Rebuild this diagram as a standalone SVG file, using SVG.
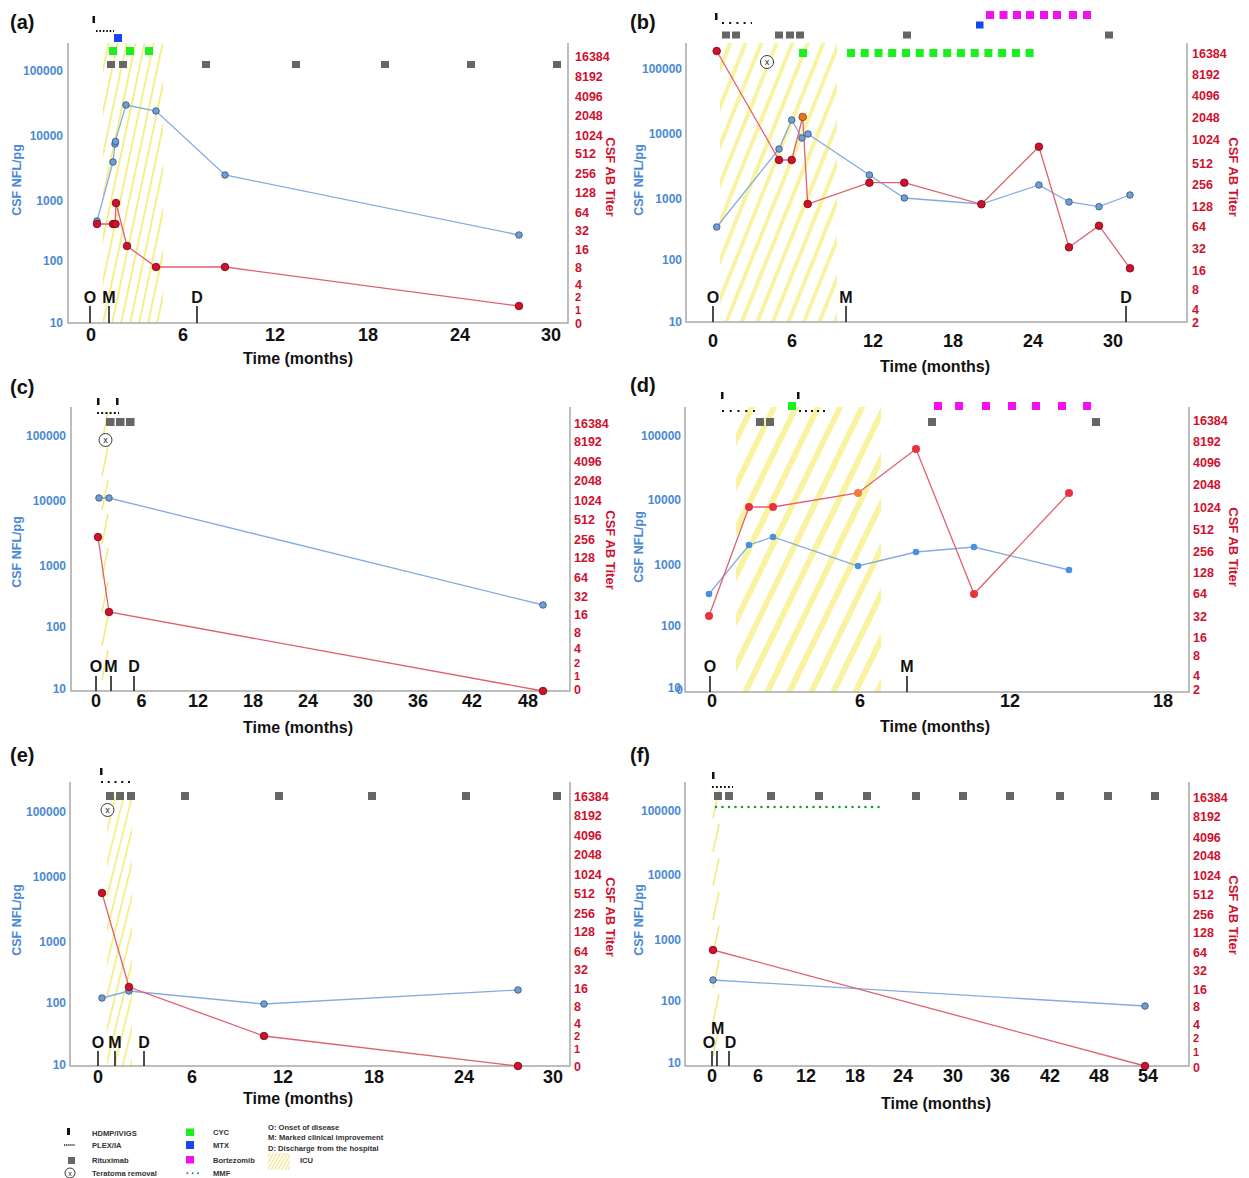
<svg xmlns="http://www.w3.org/2000/svg" width="1249" height="1178" viewBox="0 0 1249 1178">
<style>
text{font-family:"Liberation Sans",Arial,sans-serif}
.pl{font-size:20px;font-weight:bold;fill:#111}
.yl{font-size:12px;font-weight:bold;fill:#4a89d4;text-anchor:end}
.rl{font-size:12.5px;font-weight:bold;fill:#d0102e}
.sm{font-size:11px}
.xl{font-size:18px;font-weight:bold;fill:#111;text-anchor:middle}
.tt{font-size:16px;font-weight:bold;fill:#111;text-anchor:middle}
.ev{font-size:16px;font-weight:bold;fill:#111;text-anchor:middle}
.yt{font-size:12.5px;font-weight:bold;fill:#4a89d4;text-anchor:middle}
.rt{font-size:13px;font-weight:bold;fill:#d0102e;text-anchor:middle}
.ax{fill:none;stroke:#a8a8a8;stroke-width:1.5}
.tk{stroke:#111;stroke-width:1.5}
.hd{fill:#111}
.px{stroke:#111;stroke-width:2;fill:none}
.rx{fill:#666}
.cy{fill:#19f01e}
.mt{fill:#1646f0}
.bz{fill:#f010f0}
.bl{fill:none;stroke:#84acdf;stroke-width:1.3}
.rln{fill:none;stroke:#e0606e;stroke-width:1.3}
.bp{fill:#6e9ed4;stroke:#34507a;stroke-width:0.8}
.rp{fill:#d2102c;stroke:#6a0812;stroke-width:0.8}
.op{fill:#e8751a;stroke:#8a3a08;stroke-width:0.8}
.bpd{fill:#4d8fdc}
.rpd{fill:#e8333f}
.opd{fill:#ef7d3c}
.tr{fill:#fff;stroke:#222;stroke-width:0.9}
.trx{font-size:9px;fill:#222;text-anchor:middle}
.zz{stroke:#f2ea78;stroke-width:1.5;fill:none}
.lg{font-size:7.6px;font-weight:bold;fill:#333}
</style>
<defs>
<pattern id="icuA" patternUnits="userSpaceOnUse" width="8.8" height="10" patternTransform="rotate(12)"><rect x="0" y="0" width="1.6" height="10" fill="#f3eb6e"/></pattern>
<pattern id="icuB" patternUnits="userSpaceOnUse" width="14.4" height="10" patternTransform="rotate(22)"><rect x="0" y="0" width="4" height="10" fill="#f8f3a0"/></pattern>
<pattern id="icuD" patternUnits="userSpaceOnUse" width="19.8" height="10" patternTransform="rotate(26)"><rect x="0" y="0" width="6" height="10" fill="#f8f3a0"/></pattern>
<pattern id="icuE" patternUnits="userSpaceOnUse" width="8" height="10" patternTransform="rotate(14)"><rect x="0" y="0" width="1.5" height="10" fill="#f3eb6e"/></pattern>
<pattern id="icuL" patternUnits="userSpaceOnUse" width="3" height="6" patternTransform="rotate(30)"><rect x="0" y="0" width="1.2" height="6" fill="#efe48a"/></pattern>
</defs>
<rect width="1249" height="1178" fill="#fff"/>

<!-- Panel (a) -->
<g id="panel-a">
<text class="pl" x="10" y="29">(a)</text>
<rect x="103" y="43" width="60" height="280" fill="url(#icuA)"/>
<path class="ax" d="M68,43 V323 H568 V43"/>
<text class="yl" x="63" y="75">100000</text><text class="yl" x="63" y="140">10000</text><text class="yl" x="63" y="205">1000</text><text class="yl" x="63" y="265">100</text><text class="yl" x="63" y="327">10</text>
<text class="rl" x="575" y="61">16384</text><text class="rl" x="575" y="80.5">8192</text><text class="rl" x="575" y="100.5">4096</text><text class="rl" x="575" y="119.5">2048</text><text class="rl" x="575" y="139.5">1024</text><text class="rl" x="575" y="157.5">512</text><text class="rl" x="575" y="177.5">256</text><text class="rl" x="575" y="196.5">128</text><text class="rl" x="575" y="216.5">64</text><text class="rl" x="575" y="234.5">32</text><text class="rl" x="575" y="253.5">16</text><text class="rl" x="575" y="271.5">8</text><text class="rl" x="575" y="288.5">4</text><text class="rl sm" x="575" y="300.5">2</text><text class="rl sm" x="575" y="313.5">1</text><text class="rl" x="575" y="327.5">0</text>
<text class="rt" transform="translate(606,177) rotate(90)">CSF AB Titer</text>
<text class="yt" transform="translate(21,180) rotate(-90)">CSF NFL/pg</text>
<text class="xl" x="91" y="340.5">0</text><text class="xl" x="183" y="340.5">6</text><text class="xl" x="275" y="340.5">12</text><text class="xl" x="368" y="340.5">18</text><text class="xl" x="460" y="340.5">24</text><text class="xl" x="551" y="340.5">30</text>
<text class="tt" x="298" y="364">Time (months)</text>
<text class="ev" x="90" y="303">O</text><text class="ev" x="109" y="303">M</text><text class="ev" x="197" y="303">D</text>
<line class="tk" x1="90" y1="306" x2="90" y2="323"/><line class="tk" x1="109" y1="306" x2="109" y2="323"/><line class="tk" x1="197" y1="306" x2="197" y2="323"/>
<rect class="hd" x="92.5" y="16" width="2.5" height="7"/>
<line class="px" x1="96" y1="31" x2="114" y2="31" stroke-width="1.6" stroke-dasharray="1.6 1.8"/>
<rect class="mt" x="114" y="34" width="8" height="8"/>
<rect class="cy" x="109" y="47" width="8" height="8"/><rect class="cy" x="126" y="47" width="8" height="8"/><rect class="cy" x="145" y="47" width="8" height="8"/>
<rect class="rx" x="107" y="61" width="8" height="7"/><rect class="rx" x="119" y="61" width="8" height="7"/><rect class="rx" x="202" y="61" width="8" height="7"/><rect class="rx" x="292" y="61" width="8" height="7"/><rect class="rx" x="381" y="61" width="8" height="7"/><rect class="rx" x="467" y="61" width="8" height="7"/><rect class="rx" x="553" y="61" width="8" height="7"/>
<polyline class="bl" points="97,221 113,162 115,144 115,142 126,105 156,111 225,175 519,235"/>
<polyline class="rln" points="97,224 113,224 115,224 116,203 127,246 156,267 225,267 519,306"/>
<circle class="bp" cx="97" cy="221" r="3.3"/><circle class="bp" cx="113" cy="162" r="3.3"/><circle class="bp" cx="115" cy="144" r="3.3"/><circle class="bp" cx="115.5" cy="141.5" r="3.3"/><circle class="bp" cx="126" cy="105" r="3.3"/><circle class="bp" cx="156" cy="111" r="3.3"/><circle class="bp" cx="225" cy="175" r="3.3"/><circle class="bp" cx="519" cy="235" r="3.3"/>
<circle class="rp" cx="97" cy="224" r="3.8"/><circle class="rp" cx="113" cy="224" r="3.8"/><circle class="rp" cx="115.5" cy="224" r="3.8"/><circle class="rp" cx="116" cy="203" r="3.8"/><circle class="rp" cx="127" cy="246" r="3.8"/><circle class="rp" cx="156" cy="267" r="3.8"/><circle class="rp" cx="225" cy="267" r="3.8"/><circle class="rp" cx="519" cy="306" r="3.8"/>
</g>

<!-- Panel (b) -->
<g id="panel-b">
<text class="pl" x="630" y="29">(b)</text>
<rect x="720" y="43" width="117" height="279" fill="url(#icuB)"/>
<path class="ax" d="M686,43 V322 H1187 V43"/>
<text class="yl" x="682" y="73">100000</text><text class="yl" x="682" y="138">10000</text><text class="yl" x="682" y="203">1000</text><text class="yl" x="682" y="264">100</text><text class="yl" x="682" y="326">10</text>
<text class="rl" x="1192" y="57.5">16384</text><text class="rl" x="1192" y="78.5">8192</text><text class="rl" x="1192" y="99.5">4096</text><text class="rl" x="1192" y="121.5">2048</text><text class="rl" x="1192" y="143.5">1024</text><text class="rl" x="1192" y="167.5">512</text><text class="rl" x="1192" y="188.5">256</text><text class="rl" x="1192" y="210.5">128</text><text class="rl" x="1192" y="230.5">64</text><text class="rl" x="1192" y="252.5">32</text><text class="rl" x="1192" y="274.5">16</text><text class="rl" x="1192" y="293.5">8</text><text class="rl" x="1192" y="313.5">4</text><text class="rl" x="1192" y="326.5">2</text>
<text class="rt" transform="translate(1229,177) rotate(90)">CSF AB Titer</text>
<text class="yt" transform="translate(643,180) rotate(-90)">CSF NFL/pg</text>
<text class="xl" x="713" y="346.5">0</text><text class="xl" x="792" y="346.5">6</text><text class="xl" x="873" y="346.5">12</text><text class="xl" x="953" y="346.5">18</text><text class="xl" x="1033" y="346.5">24</text><text class="xl" x="1113" y="346.5">30</text>
<text class="tt" x="935" y="372">Time (months)</text>
<text class="ev" x="713" y="303">O</text><text class="ev" x="846" y="303">M</text><text class="ev" x="1126" y="303">D</text>
<line class="tk" x1="713" y1="306" x2="713" y2="322"/><line class="tk" x1="846" y1="306" x2="846" y2="322"/><line class="tk" x1="1126" y1="306" x2="1126" y2="322"/>
<rect class="hd" x="715" y="13" width="2.5" height="7"/>
<line class="px" x1="722" y1="23" x2="752" y2="23" stroke-dasharray="2 5.2"/>
<rect class="rx" x="722" y="31.5" width="8" height="7"/><rect class="rx" x="732" y="31.5" width="8" height="7"/><rect class="rx" x="775" y="31.5" width="8" height="7"/><rect class="rx" x="786" y="31.5" width="8" height="7"/><rect class="rx" x="796" y="31.5" width="8" height="7"/><rect class="rx" x="903" y="31.5" width="8" height="7"/><rect class="rx" x="1105" y="31.5" width="8" height="7"/>
<rect class="mt" x="976" y="21.5" width="7.5" height="7"/>
<rect class="bz" x="986" y="11" width="8" height="8"/><rect class="bz" x="999.5" y="11" width="8" height="8"/><rect class="bz" x="1013" y="11" width="8" height="8"/><rect class="bz" x="1026" y="11" width="8" height="8"/><rect class="bz" x="1040" y="11" width="8" height="8"/><rect class="bz" x="1053" y="11" width="8" height="8"/><rect class="bz" x="1069" y="11" width="8" height="8"/><rect class="bz" x="1083" y="11" width="8" height="8"/>
<rect class="cy" x="799" y="49" width="8" height="8"/>
<rect class="cy" x="847" y="49" width="8" height="8"/><rect class="cy" x="860.7" y="49" width="8" height="8"/><rect class="cy" x="874.5" y="49" width="8" height="8"/><rect class="cy" x="888.2" y="49" width="8" height="8"/><rect class="cy" x="902" y="49" width="8" height="8"/><rect class="cy" x="915.7" y="49" width="8" height="8"/><rect class="cy" x="929.4" y="49" width="8" height="8"/><rect class="cy" x="943.2" y="49" width="8" height="8"/><rect class="cy" x="956.9" y="49" width="8" height="8"/><rect class="cy" x="970.7" y="49" width="8" height="8"/><rect class="cy" x="984.4" y="49" width="8" height="8"/><rect class="cy" x="998.1" y="49" width="8" height="8"/><rect class="cy" x="1011.9" y="49" width="8" height="8"/><rect class="cy" x="1025.6" y="49" width="8" height="8"/>
<circle class="tr" cx="767" cy="62" r="6.5"/><text class="trx" x="767" y="65">x</text>
<polyline class="bl" points="716.7,227 779,149 791.7,120 802,138 808,134 869.4,175 904.3,198 981.4,204 1038.9,185 1069,202 1099,206.7 1130,195"/>
<polyline class="rln" points="716.7,51 779,160 791.7,160 802.7,117 807.7,204 869.4,182.7 904.3,182.7 981.4,204.3 1038.9,146.7 1069,247.3 1099,225.7 1130,268.3"/>
<circle class="bp" cx="716.7" cy="227" r="3.3"/><circle class="bp" cx="779" cy="149" r="3.3"/><circle class="bp" cx="791.7" cy="120" r="3.3"/><circle class="bp" cx="802" cy="138" r="3.3"/><circle class="bp" cx="808" cy="134" r="3.3"/><circle class="bp" cx="869.4" cy="175" r="3.3"/><circle class="bp" cx="904.3" cy="198" r="3.3"/><circle class="bp" cx="981.4" cy="204" r="3.3"/><circle class="bp" cx="1038.9" cy="185" r="3.3"/><circle class="bp" cx="1069" cy="202" r="3.3"/><circle class="bp" cx="1099" cy="206.7" r="3.3"/><circle class="bp" cx="1130" cy="195" r="3.3"/>
<circle class="rp" cx="716.7" cy="51" r="3.8"/><circle class="rp" cx="779" cy="160" r="3.8"/><circle class="rp" cx="791.7" cy="160" r="3.8"/><circle class="op" cx="802.7" cy="117" r="3.8"/><circle class="rp" cx="807.7" cy="204" r="3.8"/><circle class="rp" cx="869.4" cy="182.7" r="3.8"/><circle class="rp" cx="904.3" cy="182.7" r="3.8"/><circle class="rp" cx="981.4" cy="204.3" r="3.8"/><circle class="rp" cx="1038.9" cy="146.7" r="3.8"/><circle class="rp" cx="1069" cy="247.3" r="3.8"/><circle class="rp" cx="1099" cy="225.7" r="3.8"/><circle class="rp" cx="1130" cy="268.3" r="3.8"/>
</g>

<!-- Panel (c) -->
<g id="panel-c">
<text class="pl" x="10" y="394">(c)</text>
<path class="zz" d="M102,442 L108,412 M102,476 L108,446 M102,510 L108,480 M102,544 L108,514 M102,578 L108,548 M102,612 L108,582 M102,646 L108,616 M102,680 L108,650"/>
<path class="ax" d="M71,407 V691 H570 V407"/>
<text class="yl" x="66" y="440">100000</text><text class="yl" x="66" y="505">10000</text><text class="yl" x="66" y="570">1000</text><text class="yl" x="66" y="631">100</text><text class="yl" x="66" y="693">10</text>
<text class="rl" x="574" y="427.5">16384</text><text class="rl" x="574" y="445.5">8192</text><text class="rl" x="574" y="465.5">4096</text><text class="rl" x="574" y="484.5">2048</text><text class="rl" x="574" y="504.5">1024</text><text class="rl" x="574" y="523.5">512</text><text class="rl" x="574" y="543.5">256</text><text class="rl" x="574" y="561.5">128</text><text class="rl" x="574" y="581.5">64</text><text class="rl" x="574" y="600.5">32</text><text class="rl" x="574" y="618.5">16</text><text class="rl" x="574" y="636.5">8</text><text class="rl" x="574" y="652.5">4</text><text class="rl sm" x="574" y="666.5">2</text><text class="rl sm" x="574" y="679.5">1</text><text class="rl" x="574" y="693.5">0</text>
<text class="rt" transform="translate(606,550) rotate(90)">CSF AB Titer</text>
<text class="yt" transform="translate(21,552) rotate(-90)">CSF NFL/pg</text>
<text class="xl" x="96" y="706.5">0</text><text class="xl" x="141.5" y="706.5">6</text><text class="xl" x="198" y="706.5">12</text><text class="xl" x="253" y="706.5">18</text><text class="xl" x="308" y="706.5">24</text><text class="xl" x="363" y="706.5">30</text><text class="xl" x="418" y="706.5">36</text><text class="xl" x="472" y="706.5">42</text><text class="xl" x="528" y="706.5">48</text>
<text class="tt" x="298" y="733">Time (months)</text>
<text class="ev" x="96" y="672">O</text><text class="ev" x="111" y="672">M</text><text class="ev" x="134" y="672">D</text>
<line class="tk" x1="96" y1="676" x2="96" y2="691"/><line class="tk" x1="111" y1="676" x2="111" y2="691"/><line class="tk" x1="134" y1="676" x2="134" y2="691"/>
<rect class="hd" x="97" y="398" width="2.5" height="7"/><rect class="hd" x="116" y="398" width="2.5" height="7"/>
<line class="px" x1="97" y1="413" x2="119" y2="413" stroke-width="1.8" stroke-dasharray="2 2.2"/>
<rect class="rx" x="106" y="418" width="8.5" height="8"/><rect class="rx" x="116" y="418" width="8.5" height="8"/><rect class="rx" x="126" y="418" width="8.5" height="8"/>
<circle class="tr" cx="105.5" cy="440" r="6.5"/><text class="trx" x="105.5" y="443">x</text>
<polyline class="bl" points="99,498 109,498 543,605"/>
<polyline class="rln" points="98,537 109,612 543,691"/>
<circle class="bp" cx="99" cy="498" r="3.3"/><circle class="bp" cx="109" cy="498" r="3.3"/><circle class="bp" cx="543" cy="605" r="3.3"/>
<circle class="rp" cx="98" cy="537" r="3.8"/><circle class="rp" cx="109" cy="612" r="3.8"/><circle class="rp" cx="543" cy="691" r="3.8"/>
</g>

<!-- Panel (d) -->
<g id="panel-d">
<text class="pl" x="630" y="392">(d)</text>
<rect x="736" y="407" width="145" height="285" fill="url(#icuD)"/>
<path class="ax" d="M685,407 V692 H1189 V407"/>
<text class="yl" x="681" y="440">100000</text><text class="yl" x="681" y="504">10000</text><text class="yl" x="681" y="569">1000</text><text class="yl" x="681" y="630">100</text><text class="yl" x="681" y="692">10</text><text class="yl" x="683" y="694">0</text>
<text class="rl" x="1193" y="424.5">16384</text><text class="rl" x="1193" y="445.5">8192</text><text class="rl" x="1193" y="466.5">4096</text><text class="rl" x="1193" y="488.5">2048</text><text class="rl" x="1193" y="511.5">1024</text><text class="rl" x="1193" y="533.5">512</text><text class="rl" x="1193" y="555.5">256</text><text class="rl" x="1193" y="576.5">128</text><text class="rl" x="1193" y="597.5">64</text><text class="rl" x="1193" y="620.5">32</text><text class="rl" x="1193" y="641.5">16</text><text class="rl" x="1193" y="659.5">8</text><text class="rl" x="1193" y="679.5">4</text><text class="rl" x="1193" y="693.5">2</text>
<text class="rt" transform="translate(1229,547) rotate(90)">CSF AB Titer</text>
<text class="yt" transform="translate(643,547) rotate(-90)">CSF NFL/pg</text>
<text class="xl" x="712" y="706.5">0</text><text class="xl" x="860" y="706.5">6</text><text class="xl" x="1010" y="706.5">12</text><text class="xl" x="1163" y="706.5">18</text>
<text class="tt" x="935" y="732">Time (months)</text>
<text class="ev" x="710" y="672">O</text><text class="ev" x="907" y="672">M</text>
<line class="tk" x1="710" y1="676" x2="710" y2="692"/><line class="tk" x1="907" y1="676" x2="907" y2="692"/>
<rect class="hd" x="721" y="392" width="2.5" height="7"/><rect class="hd" x="797" y="392" width="2.5" height="7"/>
<line class="px" x1="722" y1="411" x2="755" y2="411" stroke-dasharray="2 5.75"/>
<line class="px" x1="799" y1="411" x2="825" y2="411" stroke-dasharray="2 4"/>
<rect class="cy" x="788" y="402" width="8" height="8"/>
<rect class="rx" x="756" y="418" width="8" height="8"/><rect class="rx" x="766" y="418" width="8" height="8"/><rect class="rx" x="928" y="418" width="8" height="8"/><rect class="rx" x="1092" y="418" width="8" height="8"/>
<rect class="bz" x="934" y="402" width="8" height="8"/><rect class="bz" x="955" y="402" width="8" height="8"/><rect class="bz" x="982" y="402" width="8" height="8"/><rect class="bz" x="1008" y="402" width="8" height="8"/><rect class="bz" x="1032" y="402" width="8" height="8"/><rect class="bz" x="1058" y="402" width="8" height="8"/><rect class="bz" x="1083" y="402" width="8" height="8"/>
<polyline class="bl" points="709,594 749,545 773,537 858,566 916,552 974,547 1069,570"/>
<polyline class="rln" points="709,616 749,507 773,507 858,493 916,449 974,594 1069,493"/>
<circle class="bpd" cx="709" cy="594" r="3.3"/><circle class="bpd" cx="749" cy="545" r="3.3"/><circle class="bpd" cx="773" cy="537" r="3.3"/><circle class="bpd" cx="858" cy="566" r="3.3"/><circle class="bpd" cx="916" cy="552" r="3.3"/><circle class="bpd" cx="974" cy="547" r="3.3"/><circle class="bpd" cx="1069" cy="570" r="3.3"/>
<circle class="rpd" cx="709" cy="616" r="4"/><circle class="rpd" cx="749" cy="507" r="4"/><circle class="rpd" cx="773" cy="507" r="4"/><circle class="opd" cx="858" cy="493" r="4"/><circle class="rpd" cx="916" cy="449" r="4"/><circle class="rpd" cx="974" cy="594" r="4"/><circle class="rpd" cx="1069" cy="493" r="4"/>
</g>

<!-- Panel (e) -->
<g id="panel-e">
<text class="pl" x="10" y="762">(e)</text>
<rect x="107" y="797" width="25" height="269" fill="url(#icuE)"/>
<path class="ax" d="M70,782 V1066 H570 V782"/>
<text class="yl" x="66" y="816">100000</text><text class="yl" x="66" y="881">10000</text><text class="yl" x="66" y="946">1000</text><text class="yl" x="66" y="1007">100</text><text class="yl" x="66" y="1069">10</text>
<text class="rl" x="574" y="800.5">16384</text><text class="rl" x="574" y="819.5">8192</text><text class="rl" x="574" y="839.5">4096</text><text class="rl" x="574" y="858.5">2048</text><text class="rl" x="574" y="878.5">1024</text><text class="rl" x="574" y="897.5">512</text><text class="rl" x="574" y="917.5">256</text><text class="rl" x="574" y="935.5">128</text><text class="rl" x="574" y="955.5">64</text><text class="rl" x="574" y="973.5">32</text><text class="rl" x="574" y="992.5">16</text><text class="rl" x="574" y="1010.5">8</text><text class="rl" x="574" y="1027.5">4</text><text class="rl sm" x="574" y="1040">2</text><text class="rl sm" x="574" y="1053">1</text><text class="rl" x="574" y="1070.5">0</text>
<text class="rt" transform="translate(606,917) rotate(90)">CSF AB Titer</text>
<text class="yt" transform="translate(21,920) rotate(-90)">CSF NFL/pg</text>
<text class="xl" x="98" y="1082.5">0</text><text class="xl" x="192" y="1082.5">6</text><text class="xl" x="283" y="1082.5">12</text><text class="xl" x="374" y="1082.5">18</text><text class="xl" x="464" y="1082.5">24</text><text class="xl" x="553" y="1082.5">30</text>
<text class="tt" x="298" y="1104">Time (months)</text>
<text class="ev" x="98" y="1048">O</text><text class="ev" x="115" y="1048">M</text><text class="ev" x="144" y="1048">D</text>
<line class="tk" x1="98" y1="1051" x2="98" y2="1066"/><line class="tk" x1="115" y1="1051" x2="115" y2="1066"/><line class="tk" x1="144" y1="1051" x2="144" y2="1066"/>
<rect class="hd" x="100" y="768" width="2.5" height="7"/>
<line class="px" x1="101" y1="782" x2="130" y2="782" stroke-dasharray="2 4.75"/>
<rect class="rx" x="106" y="792" width="8" height="8"/><rect class="rx" x="116" y="792" width="8" height="8"/><rect class="rx" x="127" y="792" width="8" height="8"/><rect class="rx" x="181" y="792" width="8" height="8"/><rect class="rx" x="275" y="792" width="8" height="8"/><rect class="rx" x="368" y="792" width="8" height="8"/><rect class="rx" x="462" y="792" width="8" height="8"/><rect class="rx" x="553" y="792" width="8" height="8"/>
<circle class="tr" cx="107.5" cy="810" r="6.5"/><text class="trx" x="107.5" y="813">x</text>
<polyline class="bl" points="102,998 129,991 264,1004 518,990"/>
<polyline class="rln" points="102,893 129,987 264,1036 518,1066"/>
<circle class="bp" cx="102" cy="998" r="3.3"/><circle class="bp" cx="129" cy="991" r="3.3"/><circle class="bp" cx="264" cy="1004" r="3.3"/><circle class="bp" cx="518" cy="990" r="3.3"/>
<circle class="rp" cx="102" cy="893" r="3.8"/><circle class="rp" cx="129" cy="987" r="3.8"/><circle class="rp" cx="264" cy="1036" r="3.8"/><circle class="rp" cx="518" cy="1066" r="3.8"/>
</g>

<!-- Panel (f) -->
<g id="panel-f">
<text class="pl" x="630" y="762">(f)</text>
<path class="zz" d="M713,818 L719,790 M713,852 L719,824 M713,886 L719,858 M713,920 L719,892 M713,954 L719,926 M713,988 L719,960 M713,1022 L719,994 M713,1056 L719,1028"/>
<path class="ax" d="M685,782 V1066 H1189 V782"/>
<text class="yl" x="681" y="815">100000</text><text class="yl" x="681" y="879">10000</text><text class="yl" x="681" y="944">1000</text><text class="yl" x="681" y="1005">100</text><text class="yl" x="681" y="1067">10</text>
<text class="rl" x="1193" y="801.5">16384</text><text class="rl" x="1193" y="820.5">8192</text><text class="rl" x="1193" y="841.5">4096</text><text class="rl" x="1193" y="859.5">2048</text><text class="rl" x="1193" y="879.5">1024</text><text class="rl" x="1193" y="898.5">512</text><text class="rl" x="1193" y="918.5">256</text><text class="rl" x="1193" y="936.5">128</text><text class="rl" x="1193" y="956.5">64</text><text class="rl" x="1193" y="974.5">32</text><text class="rl" x="1193" y="993.5">16</text><text class="rl" x="1193" y="1010.5">8</text><text class="rl" x="1193" y="1028.5">4</text><text class="rl sm" x="1193" y="1042">2</text><text class="rl sm" x="1193" y="1056">1</text><text class="rl" x="1193" y="1071.5">0</text>
<text class="rt" transform="translate(1229,915) rotate(90)">CSF AB Titer</text>
<text class="yt" transform="translate(643,920) rotate(-90)">CSF NFL/pg</text>
<text class="xl" x="712" y="1081.5">0</text><text class="xl" x="758" y="1081.5">6</text><text class="xl" x="806" y="1081.5">12</text><text class="xl" x="855" y="1081.5">18</text><text class="xl" x="903" y="1081.5">24</text><text class="xl" x="953" y="1081.5">30</text><text class="xl" x="1000" y="1081.5">36</text><text class="xl" x="1050" y="1081.5">42</text><text class="xl" x="1099" y="1081.5">48</text><text class="xl" x="1148" y="1081.5">54</text>
<text class="tt" x="936" y="1109">Time (months)</text>
<text class="ev" x="717.6" y="1034">M</text><text class="ev" x="709" y="1048">O</text><text class="ev" x="730.5" y="1048">D</text>
<line class="tk" x1="712" y1="1051" x2="712" y2="1066"/><line class="tk" x1="717" y1="1051" x2="717" y2="1066"/><line class="tk" x1="729" y1="1051" x2="729" y2="1066"/>
<rect class="hd" x="712" y="772" width="2.5" height="7"/>
<line class="px" x1="712" y1="787" x2="733" y2="787" stroke-width="1.8" stroke-dasharray="1.8 2.2"/>
<rect class="rx" x="714" y="792" width="8" height="8"/><rect class="rx" x="725" y="792" width="8" height="8"/><rect class="rx" x="767" y="792" width="8" height="8"/><rect class="rx" x="815" y="792" width="8" height="8"/><rect class="rx" x="863" y="792" width="8" height="8"/><rect class="rx" x="912" y="792" width="8" height="8"/><rect class="rx" x="959" y="792" width="8" height="8"/><rect class="rx" x="1006" y="792" width="8" height="8"/><rect class="rx" x="1056" y="792" width="8" height="8"/><rect class="rx" x="1104" y="792" width="8" height="8"/><rect class="rx" x="1151" y="792" width="8" height="8"/>
<line x1="716" y1="807" x2="880" y2="807" stroke="#1a9a3a" stroke-width="2.6" stroke-linecap="round" stroke-dasharray="0 6.5"/>
<polyline class="bl" points="713,980 1145,1006"/>
<polyline class="rln" points="713,950 1145,1066"/>
<circle class="bp" cx="713" cy="980" r="3.3"/><circle class="bp" cx="1145" cy="1006" r="3.3"/>
<circle class="rp" cx="713" cy="950" r="3.8"/><circle class="rp" cx="1145" cy="1066" r="3.8"/>
</g>

<!-- Legend -->
<g id="legend">
<rect class="hd" x="67" y="1128" width="3" height="7"/>
<text class="lg" x="92" y="1135.5">HDMP/IVIGS</text>
<line x1="64" y1="1145" x2="75" y2="1145" stroke="#222" stroke-width="1.5" stroke-dasharray="1.3 0.8"/>
<text class="lg" x="92" y="1148">PLEX/IA</text>
<rect class="rx" x="68" y="1157" width="7" height="7"/>
<text class="lg" x="92" y="1163">Rituximab</text>
<circle class="tr" cx="70" cy="1173" r="5" stroke-width="0.7"/><text x="70" y="1175.5" font-size="7" fill="#222" text-anchor="middle" font-family="Liberation Sans, Arial, sans-serif">x</text>
<text class="lg" x="92" y="1176">Teratoma removal</text>
<rect class="cy" x="186" y="1128.5" width="8" height="7.5"/>
<text class="lg" x="213" y="1134.5">CYC</text>
<rect class="mt" x="186" y="1141" width="8" height="8"/>
<text class="lg" x="213" y="1148">MTX</text>
<rect class="bz" x="186" y="1156" width="8" height="7.5"/>
<text class="lg" x="213" y="1163">Bortezomib</text>
<line x1="187.3" y1="1173.3" x2="199" y2="1173.3" stroke="#1a9a3a" stroke-width="2" stroke-linecap="round" stroke-dasharray="0 5.35"/>
<text class="lg" x="213" y="1176">MMF</text>
<text class="lg" x="268" y="1129.5">O: Onset of disease</text>
<text class="lg" x="268" y="1139.5">M: Marked clinical improvement</text>
<text class="lg" x="268" y="1150.5">D: Discharge from the hospital</text>
<rect x="268" y="1153" width="22" height="17" fill="url(#icuL)"/>
<text class="lg" x="300" y="1163">ICU</text>
</g>
</svg>
